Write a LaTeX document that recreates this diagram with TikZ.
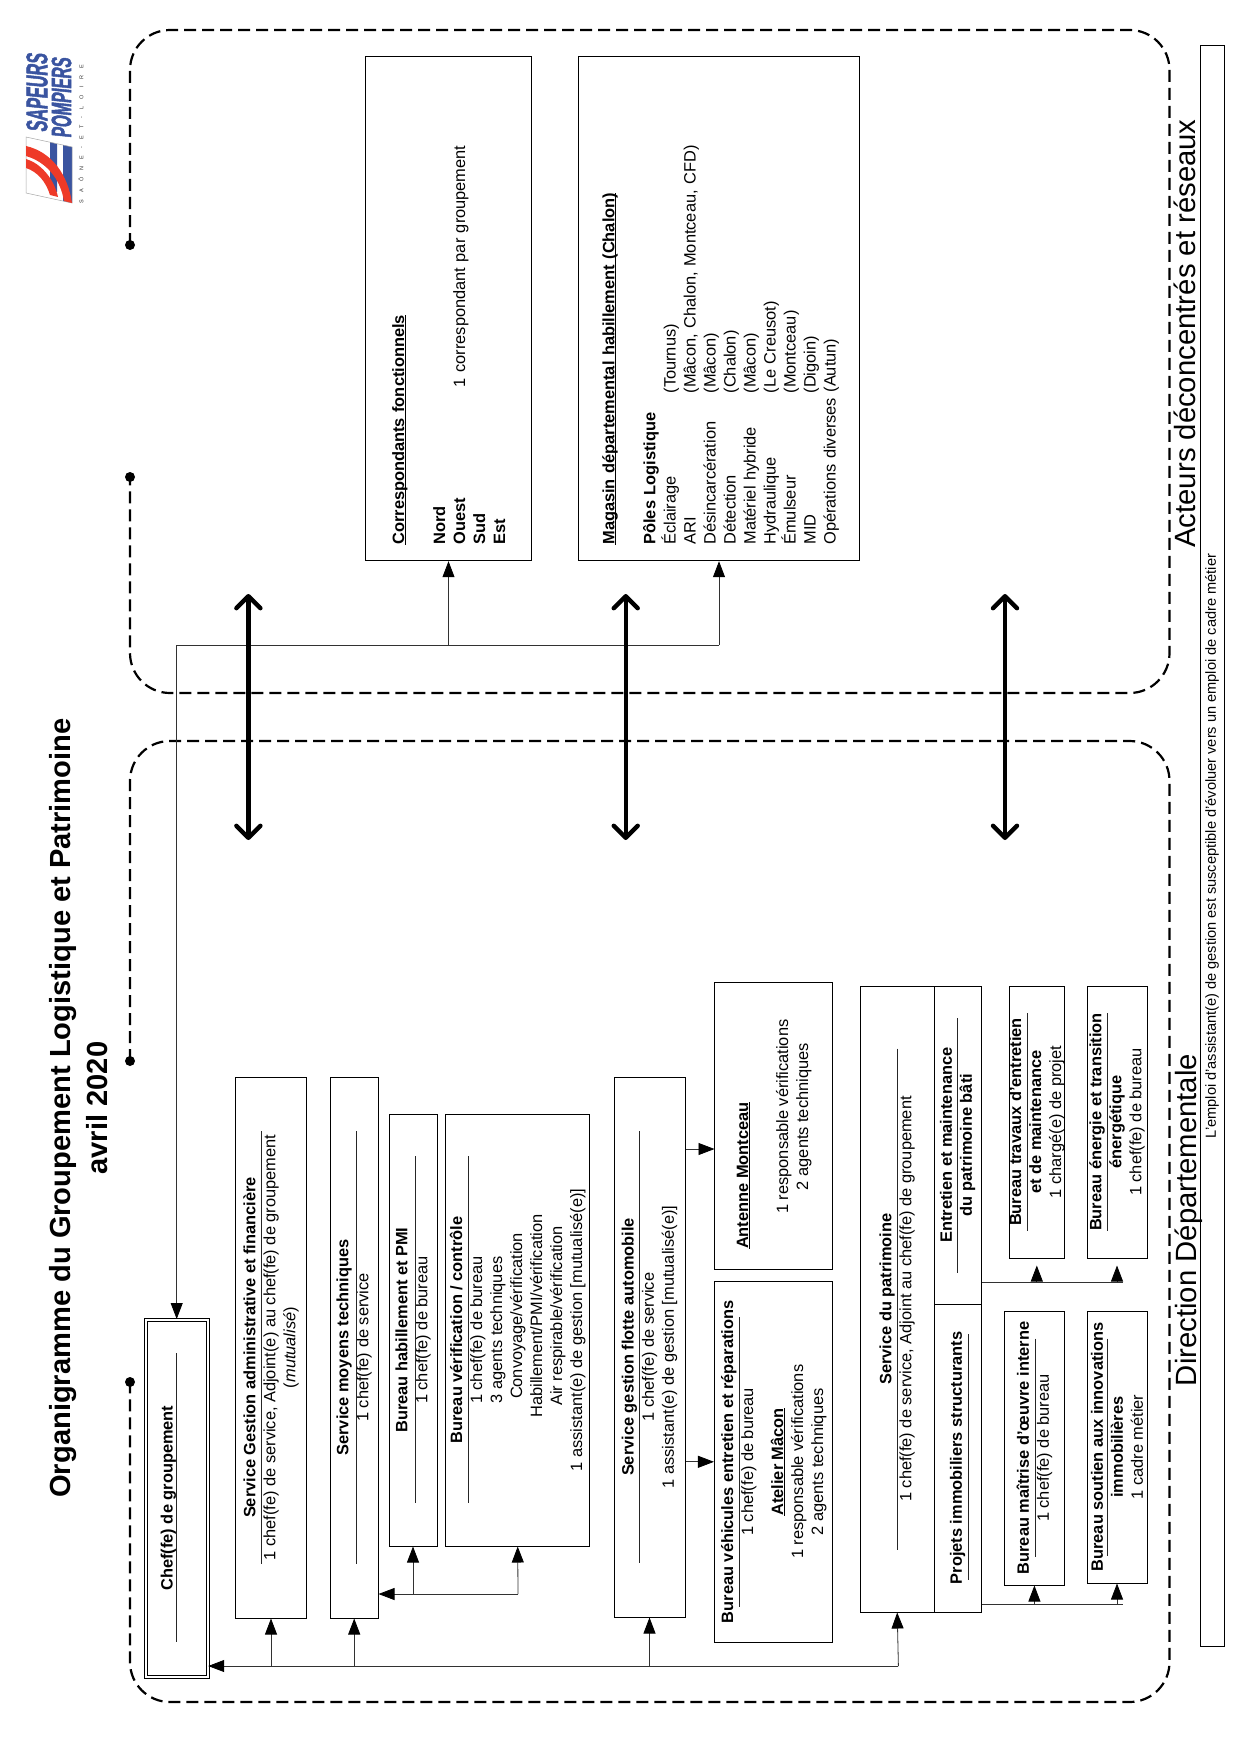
\documentclass[tikz,border=0pt]{standalone}
\usepackage{fontspec}
\setmainfont{Liberation Sans}
\newfontfamily\logofont[FakeStretch=0.54,FakeSlant=0.1,FakeBold=1.5]{Liberation Sans}
\newfontfamily\logosmall[LetterSpace=130]{Liberation Sans}
\usepackage{xcolor}
\usetikzlibrary{arrows.meta}
\definecolor{logoBlue}{RGB}{58,84,160}
\definecolor{logoRed}{RGB}{238,58,40}
\definecolor{linkGray}{RGB}{50,50,50}
\newcommand{\ulbold}[1]{\rule{0pt}{12pt}\textbf{\underline{\smash{#1}}}}

\begin{document}
\begin{tikzpicture}[
  x=1pt, y=-1pt,
  font=\fontsize{16.4}{20}\selectfont,
  box/.style={draw=black, line width=1pt, rotate=90, align=center, inner sep=0pt},
  listbox/.style={draw=black, line width=1pt, rotate=90, align=left, inner sep=0pt},
  rulebar/.style={line width=1pt, draw=black!85},
  arrow/.style={-{Triangle[length=16pt,width=12pt,black]}, line width=0.8pt, draw=linkGray},
  bus/.style={line width=0.8pt, draw=linkGray},
  bigarrow/.style={{Straight Barb[length=12pt,width=24pt,round]}-{Straight Barb[length=12pt,width=24pt,round]}, line width=4.4pt},
  frame/.style={dash pattern=on 12pt off 6pt, line width=2.2pt, rounded corners=40pt},
  enddot/.style={circle, fill=black, inner sep=0pt, minimum size=10pt},
  bigtitle/.style={rotate=90, font=\fontsize{29.1}{37}\selectfont\bfseries, align=center},
  zonelabel/.style={rotate=90, font=\fontsize{29.3}{30}\selectfont}
]
\useasboundingbox (0,0) rectangle (1241,1755);

\node[bigtitle] (title) at (79,1108) {Organigramme du Groupement Logistique et Patrimoine\\avril 2020};

\fill[logoBlue] (50,142) -- (57,144) -- (57,192) -- (50,190) -- cycle;
\fill[logoBlue] (63,145) -- (72,147) -- (72,203) -- (63,201) -- cycle;
\draw[black!35, line width=0.5pt] (26,137) -- (72,147) -- (72,203) -- (26,193) -- cycle;
\fill[logoRed] (26,146) .. controls (52,152) and (68,175) .. (72,203) -- (64,201) .. controls (60,178) and (46,162) .. (26,156) -- cycle;
\fill[logoRed] (26,159) .. controls (40,163) and (54,178) .. (58,197) -- (50,195) .. controls (46,182) and (38,172) .. (26,168) -- cycle;
\node[rotate=90, text=logoBlue, inner sep=0pt, font=\logofont\fontsize{30}{30}\selectfont\bfseries] (logoA) at (37,93) {SAPEURS};
\node[rotate=90, text=logoBlue, inner sep=0pt, font=\logofont\fontsize{28}{28}\selectfont\bfseries] (logoB) at (61.5,98) {POMPIERS};
\node[rotate=90, text=black!80, inner sep=0pt, font=\logosmall\fontsize{5.5}{6}\selectfont] (logoC) at (81,134) {SAÔNE-ET-LOIRE};

\node[enddot] (dotA) at (130,245) {};
\node[enddot] (dotB) at (130,477) {};
\node[enddot] (dotC) at (130,1061) {};
\node[enddot] (dotD) at (130,1382) {};
\draw[frame] (dotA.center) -- (130,30) -- (1169.5,30) -- (1169.5,693) -- (130,693) -- (dotB.center);
\draw[frame] (dotC.center) -- (130,741) -- (1169.5,741) -- (1169.5,1702) -- (130,1702) -- (dotD.center);

\node[box, double=white, double distance=2pt, line width=1pt, minimum width=357pt, minimum height=62pt] (chef) at (176.7,1498) {\textbf{Chef(fe) de groupement}\\~};
\node[box, minimum width=541pt, minimum height=71pt] (gestion) at (271,1347.5) {\textbf{Service Gestion administrative et financière}\\1 chef(fe) de service, Adjoint(e) au chef(fe) de groupement\\(\textit{mutualisé})};
\node[box, minimum width=541pt, minimum height=47.6pt] (moyens) at (354.2,1347.5) {\textbf{Service moyens techniques}\\1 chef(fe) de service};
\node[box, minimum width=432pt, minimum height=48pt] (habille) at (413,1330) {\textbf{Bureau habillement et PMI}\\1 chef(fe) de bureau};
\node[box, minimum width=432pt, minimum height=144.5pt] (verif) at (517.7,1330) {\textbf{Bureau vérification / contrôle}\\1 chef(fe) de bureau\\3 agents techniques\\\hspace*{28pt}Convoyage/vérification\\\hspace*{28pt}Habillement/PMI/vérification\\\hspace*{28pt}Air respirable/vérification\\1 assistant(e) de gestion [mutualisé(e)]};
\node[box, minimum width=540pt, minimum height=71pt] (flotte) at (649.5,1347) {\textbf{Service gestion flotte automobile}\\1 chef(fe) de service\\1 assistant(e) de gestion [mutualisé(e)]};
\node[box, minimum width=287pt, minimum height=118.5pt] (antenne) at (773.7,1125.6) {\ulbold{Antenne Montceau}\hspace*{100pt}\\~\\\hspace*{18pt}1 responsable vérifications\\\hspace*{18pt}2 agents techniques};
\node[box, minimum width=360.4pt, minimum height=118.5pt] (vehicules) at (773.7,1461.8) {\textbf{Bureau véhicules entretien et réparations}\\1 chef(fe) de bureau\\[10pt]\ulbold{Atelier Mâcon}\\1 responsable vérifications\\2 agents techniques};
\node[box, minimum width=626pt, minimum height=73.6pt] (patrimoine) at (897.2,1299) {\textbf{Service du patrimoine}\\1 chef(fe) de service, Adjoint au chef(fe) de groupement};
\node[box, minimum width=318pt, minimum height=47pt] (entretien) at (957.5,1145) {\textbf{Entretien et maintenance}\\\textbf{du patrimoine bâti}};
\node[box, minimum width=308pt, minimum height=47pt] (projets) at (957.5,1458) {\textbf{Projets immobiliers structurants}};
\node[box, minimum width=272pt, minimum height=54.4pt] (travaux) at (1036.8,1122) {\textbf{Bureau travaux d’entretien}\\\textbf{et de maintenance}\\1 chargé(e) de projet};
\node[box, minimum width=272pt, minimum height=60pt] (energie) at (1117,1122) {\textbf{Bureau énergie et transition}\\\textbf{énergétique}\\1 chef(fe) de bureau};
\node[box, minimum width=274pt, minimum height=59.3pt] (maitrise) at (1034.4,1448) {\textbf{Bureau maîtrise d’œuvre interne}\\1 chef(fe) de bureau};
\node[box, minimum width=272pt, minimum height=60pt] (soutien) at (1117,1447) {\textbf{Bureau soutien aux innovations}\\\textbf{immobilières}\\1 cadre métier};

\node[listbox, minimum width=504.2pt, minimum height=165.7pt, text width=472pt] (corresp) at (448.5,308.6) {\rule{0pt}{18pt}\ulbold{Correspondants fonctionnels}\\~\\[6pt]%
\begin{tabular}{@{}p{157.5pt}@{}l@{}}
\textbf{Nord} & \\
\textbf{Ouest} & 1 correspondant par groupement\\
\textbf{Sud} & \\
\textbf{Est} &
\end{tabular}};
\node[listbox, minimum width=504.2pt, minimum height=281pt, text width=472pt] (magasin) at (719,308.6) {\rule{0pt}{18pt}\ulbold{Magasin départemental habillement (Chalon)}\\~\\[6pt]%
\begin{tabular}{@{}p{151.2pt}@{}l@{}}
\multicolumn{2}{@{}l}{\textbf{Pôles Logistique}}\\
Éclairage & (Tournus)\\
ARI & (Mâcon, Chalon, Montceau, CFD)\\
Désincarcération & (Mâcon)\\
Détection & (Chalon)\\
Matériel hybride & (Mâcon)\\
Hydraulique & (Le Creusot)\\
Émulseur & (Montceau)\\
MID & (Digoin)\\
\multicolumn{2}{@{}l}{Opérations diverses (Autun)}
\end{tabular}};

\node[zonelabel] (acteurs) at (1185,333.5) {Acteurs déconcentrés et réseaux};
\node[zonelabel] (direction) at (1189,1220) {Direction Départementale};
\node[box, font=\fontsize{14.6}{16}\selectfont, minimum width=1600pt, minimum height=24pt] (note) at (1212,846) {L’emploi d’assistant(e) de gestion est susceptible d’évoluer vers un emploi de cadre métier};

\draw[rulebar] (176.7,1353) -- (176.7,1642);
\draw[rulebar] (261.5,1131) -- (261.5,1564);
\draw[rulebar] (356,1131) -- (356,1564);
\draw[rulebar] (415,1156) -- (415,1503);
\draw[rulebar] (468,1156) -- (468,1503);
\draw[rulebar] (639.7,1131) -- (639.7,1563);
\draw[rulebar] (739,1317) -- (739,1607);
\draw[rulebar] (897,1048.6) -- (897,1550);
\draw[rulebar] (957,1018) -- (957,1273);
\draw[rulebar] (968,1334) -- (968,1580);
\draw[rulebar] (1027,1013) -- (1027,1231);
\draw[rulebar] (1107,1013) -- (1107,1231);
\draw[rulebar] (1035,1338.6) -- (1035,1557);
\draw[rulebar] (1107,1338.6) -- (1107,1556);

\coordinate (reseau) at (176.7,645);
\coordinate (busChef) at (898.4,1666);
\coordinate (busMoyens) at (518,1594);
\coordinate (antenneIn) at (714.5,1149);
\coordinate (busEntretien) at (1123,1282.6);
\coordinate (busProjets) at (1123,1604.5);
\coordinate (linkTopA) at (248.4,594);
\coordinate (linkBotA) at (248.4,840);
\coordinate (linkTopB) at (625.7,594);
\coordinate (linkBotB) at (625.7,840);
\coordinate (linkTopC) at (1005,594);
\coordinate (linkBotC) at (1005,840);

\draw[arrow] (reseau) -- (chef.east);
\draw[bus] (reseau) -- (magasin.west |- reseau);
\draw[arrow] (corresp.west |- reseau) -- (corresp.west);
\draw[arrow] (magasin.west |- reseau) -- (magasin.west);

\draw[arrow] (busChef) -- (chef.south |- busChef);
\draw[arrow] (gestion.west |- busChef) -- (gestion.west);
\draw[arrow] (moyens.west |- busChef) -- (moyens.west);
\draw[arrow] (flotte.west |- busChef) -- (flotte.west);
\draw[arrow] (busChef) -- (patrimoine.west);

\draw[arrow] (busMoyens) -- (moyens.south |- busMoyens);
\draw[arrow] (habille.west |- busMoyens) -- (habille.west);
\draw[arrow] (busMoyens) -- (verif.west);

\draw[arrow] (flotte.south |- vehicules.north) -- (vehicules.north);
\draw[arrow] (flotte.south |- antenneIn) -- (antenneIn);

\draw[bus] (entretien.south |- busEntretien) -- (busEntretien);
\draw[arrow, shorten >=7pt] (travaux.west |- busEntretien) -- (travaux.west);
\draw[arrow, shorten >=7pt] (energie.west |- busEntretien) -- (energie.west);
\draw[bus] (projets.south |- busProjets) -- (busProjets);
\draw[arrow] (maitrise.west |- busProjets) -- (maitrise.west);
\draw[arrow] (soutien.west |- busProjets) -- (soutien.west);

\draw[bigarrow] (linkTopA) -- (linkBotA);
\draw[bigarrow] (linkTopB) -- (linkBotB);
\draw[bigarrow] (linkTopC) -- (linkBotC);
\end{tikzpicture}
\end{document}
